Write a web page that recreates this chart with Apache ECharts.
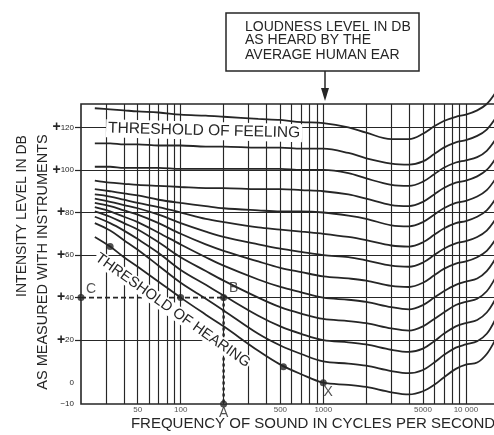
<!DOCTYPE html>
<html><head><meta charset="utf-8">
<script src="https://cdn.jsdelivr.net/npm/echarts@6/dist/echarts.min.js"></script>
<style>html,body{margin:0;padding:0;background:#fff}#c{width:494px;height:435px}</style>
</head><body><div id="c"></div>
<script>
// Frequencies (Hz) at which each loudness curve was read
const FREQ = [25, 32, 40, 50, 70, 100, 150, 200, 350, 500, 700, 1000, 1500, 2000, 3000, 4000, 5000, 6000, 7000, 8500, 10000, 12000, 14000, 16000];
// Intensity level (dB) of each equal-loudness curve
const L0   = [68.5, 64, 59, 54.5, 47.5, 40, 32, 26.5, 15, 8.5, 4, 0, -1, -2, -4.5, -5.5, -4, -1, 2.5, 6.5, 8.5, 9.5, 13.5, 20];
const L10  = [75, 71.5, 67, 62.5, 55, 47, 39.5, 34, 23, 17.5, 13.5, 10, 9, 8, 5.5, 4.5, 6, 9.5, 13, 16.5, 18, 19.5, 23, 29.5];
const L20  = [78, 75, 71.5, 67.5, 61, 53, 46, 41, 31.5, 26.5, 23, 20, 19, 18, 15.5, 14.5, 16, 19.5, 23, 26.5, 28, 29.5, 33, 39];
const L30  = [80.5, 78, 75, 72, 66, 59, 52.5, 48, 40, 35.5, 32.5, 30, 29, 28, 25.5, 24.5, 26.5, 30, 33, 36.5, 38, 39.5, 43, 49];
const L40  = [82.5, 80.5, 78, 75.5, 70.5, 65, 59, 55, 48.5, 45, 42.5, 40, 39, 38, 35.5, 34.5, 36.5, 40, 43, 46, 47.5, 49, 52.5, 58];
const L50  = [84.5, 83, 81, 79, 75, 70, 65, 62, 57, 54, 52, 50, 49, 48, 45.5, 45, 47, 50.5, 53.5, 56, 57, 59, 62, 67];
const L60  = [86.5, 85, 83.5, 82, 79, 75, 71, 68.5, 65, 63, 61.5, 60, 59, 57.5, 55, 54.5, 56.5, 60, 63, 65.5, 66.5, 68.5, 71.5, 76.5];
const L70  = [88.5, 87.5, 86, 84.5, 82.5, 80, 77, 75.5, 73, 72, 71, 70, 68.5, 67, 64.5, 64, 66, 69.5, 72.5, 75, 76, 78, 81, 86];
const L80  = [91, 90, 89, 88, 86, 84.5, 83, 82, 81, 80.5, 80.5, 80, 78.5, 77, 74, 73.5, 75.5, 79, 82, 84.5, 85.5, 87.5, 90.5, 95.5];
const L90  = [95, 94, 93.5, 93, 92.5, 92, 91.5, 91.5, 91, 91, 90.5, 90, 88.5, 86.5, 83.5, 83, 85, 88.5, 91.5, 94, 95, 97, 100, 105];
const L100 = [101.5, 101.5, 101, 101, 101, 100.5, 100.5, 100.5, 100.5, 100.5, 100, 100, 98.5, 96, 93, 92.5, 94.5, 98, 101, 103.5, 104.5, 106, 109, 114];
const L110 = [112.5, 112.5, 112, 112, 111.5, 111.5, 111, 111, 110.5, 110.5, 110, 110, 108, 105.5, 103, 102.5, 104, 107.5, 110.5, 113, 114, 116, 119, 124];
const L120 = [129, 128.5, 128, 127.5, 127, 126, 125.5, 125, 124, 123.5, 122.5, 122, 120, 117.5, 114.5, 114.5, 117, 120.5, 123, 125, 126, 128, 131, 136];

const LEVELS = [0, 10, 20, 30, 40, 50, 60, 70, 80, 90, 100, 110, 120];
const CURVES = [L0, L10, L20, L30, L40, L50, L60, L70, L80, L90, L100, L110, L120];

const GRID_FREQ = [30, 40, 50, 60, 70, 80, 90, 100, 200, 300, 400, 500, 600, 700, 800, 900, 1000, 2000, 3000, 4000, 5000, 6000, 7000, 8000, 9000, 10000];
const X_LABELS = [50, 100, 500, 1000, 5000, 10000];
const Y_LABELS = [-10, 0, 20, 40, 60, 80, 100, 120];
const Y_TICKS = [20, 40, 60, 80, 100, 120];

// marked points: [frequency, dB, letter]
const DOTS = [[32, 64, ''], [100, 40, ''], [525, 7.5, ''], [20, 40, 'C'], [200, 40, 'B'], [200, -10, 'A'], [1000, 0, 'X']];
const PATH_CB = [[20, 40], [200, 40]];
const PATH_BA = [[200, 40], [200, -10]];

const INK = '#262626';
const FONT = "'Liberation Sans', Arial, sans-serif";

const chart = echarts.init(document.getElementById('c'), null, {renderer: 'canvas'});
const i1000 = FREQ.indexOf(1000);

const series = [];
series.push({
  type: 'line', name: 'vgrid', data: [], z: 1, silent: true,
  markLine: {silent: true, symbol: ['none', 'none'], label: {show: false},
    lineStyle: {color: INK, width: 1.15, type: 'solid'},
    data: GRID_FREQ.map(f => ({xAxis: f}))}
});
[PATH_CB, PATH_BA].forEach(p => series.push({
  type: 'line', data: p, z: 1.5, silent: true, symbol: 'none',
  lineStyle: {color: '#fff', width: 4}
}));
CURVES.forEach((vals, k) => {
  series.push({
    type: 'line', name: String(LEVELS[k]), z: 2, clip: false,
    smooth: 0.35, symbol: 'none', silent: true,
    lineStyle: {color: INK, width: 1.8},
    data: FREQ.map((f, i) => i === i1000 ? {
      value: [f, vals[i]],
      label: {show: true, position: 'top', distance: 2, offset: [6, 0],
        formatter: String(LEVELS[k]), fontSize: 8, color: INK, fontFamily: FONT}
    } : [f, vals[i]])
  });
});
series.push({type: 'line', data: PATH_CB, z: 3, symbol: 'none', silent: true,
  lineStyle: {color: INK, width: 1.8, type: [5, 3]}});
series.push({type: 'line', data: PATH_BA, z: 3, symbol: 'none', silent: true,
  lineStyle: {color: INK, width: 2.4, type: [3, 3]}});
const letterOffset = {C: [10, -8], B: [10, -9], A: [0, 9], X: [5, 9]};
series.push({
  type: 'scatter', z: 4, clip: false, symbolSize: 7, silent: true,
  itemStyle: {color: INK},
  data: DOTS.map(d => ({value: [d[0], d[1]], label: {
    show: d[2] !== '', formatter: d[2], position: 'inside', offset: letterOffset[d[2]] || [0, 0],
    fontSize: 14, color: INK, fontFamily: FONT}}))
});
series.push({
  type: 'scatter', z: 4, clip: false, symbolSize: 1, silent: true,
  itemStyle: {color: 'rgba(0,0,0,0)'},
  data: X_LABELS.map(f => [f, -10]),
  label: {show: true, position: 'bottom', distance: 1, fontSize: 8, color: INK, fontFamily: FONT,
    formatter: p => p.value[0] === 10000 ? '10 000' : String(p.value[0])}
});

chart.setOption({
  animation: false,
  backgroundColor: '#fff',
  grid: {left: 81, right: -1, top: 104, bottom: 31, show: true, borderColor: INK, borderWidth: 1.6,
    backgroundColor: 'transparent', outerBoundsMode: 'none'},
  xAxis: {type: 'log', logBase: 10, min: 20, max: 16000,
    axisLine: {show: false}, axisTick: {show: false}, axisLabel: {show: false},
    splitLine: {show: false}, minorSplitLine: {show: false}},
  yAxis: {type: 'value', min: -10, max: 131, interval: 10,
    axisLine: {show: false},
    axisTick: {show: true, customValues: Y_TICKS, length: 6, lineStyle: {color: INK, width: 1.2}},
    axisLabel: {customValues: Y_LABELS, margin: 7, color: INK, fontFamily: FONT,
      formatter: v => v > 0 ? '{p|+}{n|' + v + '}' : '{n|' + (v < 0 ? '\u2212' + Math.abs(v) : v) + '}',
      rich: {p: {fontSize: 14, fontWeight: 'bold', color: INK, fontFamily: FONT},
             n: {fontSize: 8, color: INK, fontFamily: FONT}}},
    splitLine: {show: true, lineStyle: {color: INK, width: 1.15}}},
  series: series
});

const px = (f, v) => chart.convertToPixel({gridIndex: 0}, [f, v]);
const feel = px(30, 119.6);
const hear = px(88, 34);
const boxTop = 13, boxLeft = 226;
chart.setOption({
  graphic: [
    {type: 'text', z: 100, x: feel[0], y: feel[1], rotation: -0.025,
      style: {text: 'THRESHOLD OF FEELING', fontSize: 15.5, fontFamily: FONT, fill: INK,
        align: 'left', verticalAlign: 'middle', backgroundColor: '#fff', padding: [1, 2]}},
    {type: 'text', z: 100, x: hear[0], y: hear[1], rotation: -35.4 * Math.PI / 180,
      style: {text: 'THRESHOLD OF HEARING', fontSize: 14.7, fontFamily: FONT, fill: INK,
        align: 'center', verticalAlign: 'middle', backgroundColor: '#fff', padding: [0, 1]}},
    {type: 'rect', z: 100, shape: {x: boxLeft, y: boxTop, width: 193, height: 58},
      style: {fill: '#fff', stroke: INK, lineWidth: 1.5}},
    {type: 'text', z: 101, x: 245, y: 27,
      style: {text: 'LOUDNESS LEVEL IN DB', fontSize: 14, fontFamily: FONT, fill: INK, verticalAlign: 'middle'}},
    {type: 'text', z: 101, x: 245, y: 40,
      style: {text: 'AS HEARD BY THE', fontSize: 14, fontFamily: FONT, fill: INK, verticalAlign: 'middle'}},
    {type: 'text', z: 101, x: 245, y: 55,
      style: {text: 'AVERAGE HUMAN EAR', fontSize: 14, fontFamily: FONT, fill: INK, verticalAlign: 'middle'}},
    {type: 'line', z: 100, shape: {x1: 325, y1: 71, x2: 325, y2: 92}, style: {stroke: INK, lineWidth: 1.5}},
    {type: 'polygon', z: 100, shape: {points: [[321, 88], [329, 88], [325, 101]]}, style: {fill: INK}},
    {type: 'text', z: 100, x: 22, y: 216, rotation: Math.PI / 2,
      style: {text: 'INTENSITY LEVEL IN DB', fontSize: 14, fontFamily: FONT, fill: INK,
        align: 'center', verticalAlign: 'middle'}},
    {type: 'text', z: 100, x: 43, y: 262, rotation: Math.PI / 2,
      style: {text: 'AS MEASURED WITH INSTRUMENTS', fontSize: 14.5, fontFamily: FONT, fill: INK,
        align: 'center', verticalAlign: 'middle'}},
    {type: 'text', z: 100, x: 313, y: 424,
      style: {text: 'FREQUENCY OF SOUND IN CYCLES PER SECOND', fontSize: 15, fontFamily: FONT, fill: INK,
        align: 'center', verticalAlign: 'middle'}}
  ]
});
</script>
</body></html>
